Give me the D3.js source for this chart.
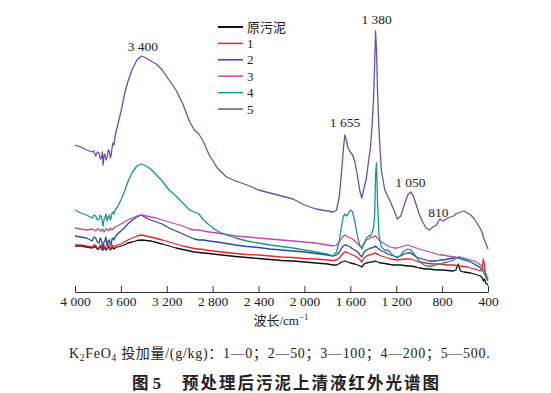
<!DOCTYPE html>
<html>
<head>
<meta charset="utf-8">
<script src="https://cdn.jsdelivr.net/npm/d3@7"></script>
<style>
body { margin: 0; background: #fff; }
text { font-family: "Liberation Serif", "Noto Sans CJK SC", serif; fill: #222; }
</style>
</head>
<body>
<div id="chart"></div>
<script>

var svgWidth = 551;
var svgHeight = 393;

// wavenumber grid (cm-1), shared by all spectra
var wavenumbers = [4000, 3950, 3900,
    3850, 3835, 3820, 3805, 3790, 3780, 3770, 3762, 3755, 3748, 3740,
    3730, 3720, 3710, 3700, 3692, 3685, 3677, 3670, 3660, 3650,
    3630, 3600, 3570, 3540, 3500, 3460,
    3420, 3380, 3340, 3290, 3240, 3180, 3120, 3060, 3000, 2960,
    2920, 2880, 2830, 2760, 2680, 2600, 2500, 2400, 2300, 2200,
    2100, 2000, 1900, 1800, 1750, 1720, 1695, 1675, 1660, 1648,
    1635, 1620, 1600, 1580, 1560, 1535, 1515, 1500, 1480, 1460,
    1440, 1425, 1410, 1398, 1388, 1380, 1372, 1362, 1350, 1330,
    1300, 1275, 1250, 1220, 1190, 1160, 1130, 1100, 1075, 1050,
    1025, 1000, 970, 940, 910, 880, 850, 820, 790, 750,
    700, 680, 660, 640, 610, 580, 550, 520, 490, 465,
    450, 440, 430, 420, 410, 400];

var seriesNames = ["原污泥", "1", "2", "3", "4", "5"];

var rawSludge = [0.46, 0.46, 0.45,
    0.44, 0.45, 0.45, 0.43, 0.43, 0.45, 0.44, 0.42, 0.42, 0.44, 0.44,
    0.42, 0.43, 0.45, 0.44, 0.42, 0.43, 0.45, 0.44, 0.43, 0.44,
    0.45, 0.46, 0.47, 0.49, 0.50, 0.515,
    0.52, 0.515, 0.51, 0.495, 0.48, 0.46, 0.44, 0.425, 0.41, 0.40,
    0.395, 0.39, 0.385, 0.375, 0.365, 0.355, 0.345, 0.335, 0.325, 0.315,
    0.31, 0.30, 0.29, 0.28, 0.27, 0.27, 0.285, 0.30, 0.305, 0.31,
    0.305, 0.30, 0.29, 0.285, 0.28, 0.27, 0.26, 0.25, 0.28, 0.29,
    0.295, 0.30, 0.30, 0.305, 0.305, 0.31, 0.305, 0.30, 0.295, 0.29,
    0.285, 0.28, 0.275, 0.27, 0.27, 0.27, 0.265, 0.26, 0.26, 0.255,
    0.25, 0.24, 0.235, 0.23, 0.23, 0.225, 0.22, 0.22, 0.22, 0.215,
    0.21, 0.22, 0.28, 0.21, 0.20, 0.195, 0.19, 0.18, 0.17, 0.16,
    0.14, 0.11, 0.13, 0.09, 0.08, 0.07];

var dose0 = [0.47, 0.47, 0.46,
    0.45, 0.47, 0.47, 0.44, 0.44, 0.47, 0.46, 0.43, 0.43, 0.46, 0.46,
    0.43, 0.44, 0.47, 0.46, 0.43, 0.44, 0.47, 0.46, 0.45, 0.46,
    0.47, 0.48, 0.50, 0.52, 0.54, 0.56,
    0.57, 0.56, 0.55, 0.535, 0.52, 0.50, 0.48, 0.46, 0.445, 0.435,
    0.43, 0.425, 0.415, 0.405, 0.395, 0.385, 0.375, 0.37, 0.36, 0.35,
    0.345, 0.335, 0.33, 0.32, 0.315, 0.32, 0.34, 0.37, 0.39, 0.40,
    0.40, 0.39, 0.38, 0.37, 0.36, 0.34, 0.32, 0.30, 0.34, 0.36,
    0.37, 0.37, 0.38, 0.38, 0.39, 0.39, 0.38, 0.38, 0.37, 0.36,
    0.35, 0.34, 0.33, 0.325, 0.32, 0.325, 0.33, 0.33, 0.33, 0.32,
    0.31, 0.30, 0.295, 0.29, 0.285, 0.28, 0.28, 0.28, 0.275, 0.27,
    0.27, 0.265, 0.26, 0.26, 0.255, 0.25, 0.24, 0.23, 0.22, 0.21,
    0.24, 0.33, 0.26, 0.16, 0.13, 0.11];

var dose50 = [0.56, 0.55, 0.54,
    0.51, 0.55, 0.54, 0.50, 0.49, 0.54, 0.52, 0.47, 0.43, 0.50, 0.51,
    0.55, 0.46, 0.51, 0.52, 0.47, 0.48, 0.53, 0.54, 0.52, 0.55,
    0.58, 0.61, 0.64, 0.68, 0.72, 0.75,
    0.77, 0.74, 0.72, 0.70, 0.68, 0.64, 0.61, 0.58, 0.55, 0.53,
    0.52, 0.52, 0.51, 0.50, 0.485, 0.47, 0.455, 0.445, 0.43, 0.42,
    0.41, 0.40, 0.385, 0.37, 0.36, 0.37, 0.40, 0.44, 0.46, 0.47,
    0.47, 0.46, 0.45, 0.43, 0.42, 0.40, 0.37, 0.35, 0.40, 0.42,
    0.43, 0.44, 0.44, 0.45, 0.45, 0.46, 0.45, 0.44, 0.43, 0.41,
    0.40, 0.38, 0.37, 0.36, 0.35, 0.36, 0.38, 0.39, 0.39, 0.37,
    0.35, 0.34, 0.33, 0.32, 0.31, 0.31, 0.31, 0.32, 0.32, 0.33,
    0.34, 0.34, 0.34, 0.33, 0.32, 0.31, 0.30, 0.28, 0.26, 0.24,
    0.22, 0.20, 0.18, 0.16, 0.14, 0.12];

var dose100 = [0.64, 0.63, 0.62,
    0.63, 0.62, 0.61, 0.63, 0.63, 0.61, 0.61, 0.63, 0.62, 0.60, 0.61,
    0.63, 0.63, 0.61, 0.62, 0.64, 0.63, 0.62, 0.63, 0.64, 0.65,
    0.66, 0.68, 0.70, 0.72, 0.74, 0.76,
    0.77, 0.76, 0.75, 0.74, 0.72, 0.70, 0.68, 0.66, 0.63, 0.62,
    0.62, 0.61, 0.60, 0.59, 0.575, 0.56, 0.55, 0.54, 0.53, 0.52,
    0.51, 0.50, 0.49, 0.47, 0.46, 0.47, 0.50, 0.54, 0.56, 0.57,
    0.56, 0.55, 0.54, 0.53, 0.51, 0.48, 0.46, 0.45, 0.49, 0.52,
    0.53, 0.54, 0.55, 0.55, 0.56, 0.56, 0.55, 0.54, 0.52, 0.50,
    0.48, 0.46, 0.45, 0.44, 0.44, 0.45, 0.46, 0.47, 0.46, 0.45,
    0.44, 0.43, 0.42, 0.41, 0.40, 0.39, 0.38, 0.37, 0.37, 0.36,
    0.35, 0.35, 0.34, 0.34, 0.34, 0.33, 0.32, 0.31, 0.29, 0.27,
    0.25, 0.23, 0.21, 0.19, 0.16, 0.14];

var dose200 = [0.82, 0.79, 0.77,
    0.74, 0.77, 0.76, 0.72, 0.73, 0.77, 0.75, 0.70, 0.66, 0.72, 0.74,
    0.78, 0.71, 0.75, 0.77, 0.72, 0.74, 0.79, 0.80, 0.78, 0.82,
    0.85, 0.92, 1.00, 1.10, 1.20, 1.26,
    1.28, 1.26, 1.23, 1.17, 1.11, 1.02, 0.96, 0.89, 0.82, 0.80,
    0.78, 0.72, 0.67, 0.61, 0.57, 0.54, 0.51, 0.49, 0.47, 0.455,
    0.44, 0.42, 0.40, 0.38, 0.36, 0.40, 0.52, 0.67, 0.76, 0.78,
    0.76, 0.78, 0.82, 0.80, 0.70, 0.54, 0.46, 0.43, 0.48, 0.54,
    0.56, 0.56, 0.60, 0.64, 0.77, 1.17, 1.29, 0.87, 0.57, 0.45,
    0.42, 0.42, 0.39, 0.36, 0.34, 0.37, 0.41, 0.43, 0.42, 0.39,
    0.35, 0.31, 0.28, 0.26, 0.26, 0.26, 0.27, 0.28, 0.29, 0.30,
    0.32, 0.34, 0.35, 0.35, 0.33, 0.32, 0.30, 0.28, 0.26, 0.24,
    0.22, 0.20, 0.18, 0.16, 0.14, 0.12];

var dose500 = [1.47, 1.45, 1.42,
    1.40, 1.41, 1.36, 1.40, 1.39, 1.33, 1.34, 1.40, 1.27, 1.36, 1.38,
    1.32, 1.35, 1.42, 1.41, 1.34, 1.37, 1.44, 1.49, 1.47, 1.56,
    1.66, 1.80, 1.97, 2.10, 2.23, 2.32,
    2.36, 2.34, 2.31, 2.28, 2.22, 2.12, 2.02, 1.88, 1.70, 1.62,
    1.58, 1.50, 1.37, 1.24, 1.15, 1.11, 1.07, 1.02, 0.99, 0.96,
    0.93, 0.87, 0.83, 0.81, 0.80, 0.82, 0.96, 1.22, 1.44, 1.57,
    1.52, 1.44, 1.40, 1.37, 1.30, 1.14, 1.00, 0.94, 1.04, 1.14,
    1.32, 1.44, 1.67, 1.92, 2.27, 2.61, 2.42, 1.97, 1.62, 1.22,
    1.02, 0.96, 0.90, 0.82, 0.73, 0.76, 0.87, 0.97, 1.00, 0.96,
    0.87, 0.78, 0.70, 0.64, 0.62, 0.65, 0.67, 0.73, 0.71, 0.74,
    0.76, 0.78, 0.79, 0.80, 0.81, 0.79, 0.77, 0.73, 0.68, 0.63,
    0.59, 0.55, 0.52, 0.49, 0.46, 0.43];

var tickValues = [4000, 3600, 3200, 2800, 2400, 2000, 1600, 1200, 800, 400];
var tickLabels = ["4 000", "3 600", "3 200", "2 800", "2 400", "2 000", "1 600", "1 200", "800", "400"];

var peakWavenumbers = [3400, 1655, 1380, 1050, 810];
var peakLabels = ["3 400", "1 655", "1 380", "1 050", "810"];

var colors = ["#111111", "#e5262b", "#2e46a6", "#c249a8", "#17988c", "#6a52a6"];

var allSeries = [rawSludge, dose0, dose50, dose100, dose200, dose500];

var svg = d3.select("#chart")
    .append("svg")
    .attr("width", svgWidth)
    .attr("height", svgHeight);

var chartGroup = svg.append("g");

var xScale = d3.scaleLinear()
    .domain([4000, 400])
    .range([75, 488]);

var yScale = d3.scaleLinear()
    .domain([0, 2.7])
    .range([292, 22]);

// x axis, ticks pointing up
var xAxis = d3.axisBottom(xScale)
    .tickValues(tickValues)
    .tickFormat((d, i) => tickLabels[i])
    .tickSizeInner(-6)
    .tickSizeOuter(0)
    .tickPadding(4);

var axisG = chartGroup.append("g")
    .attr("transform", "translate(0, 292)")
    .call(xAxis);

axisG.select(".domain").attr("stroke", "#333").attr("stroke-width", 1);
axisG.selectAll(".tick line").attr("stroke", "#333");
axisG.selectAll(".tick text")
    .attr("font-family", "Liberation Serif")
    .attr("font-size", 13.5)
    .attr("fill", "#222");

// spectra
var line = d3.line()
    .x((d, i) => xScale(wavenumbers[i]))
    .y(d => yScale(d));

allSeries.forEach((s, k) => {
    chartGroup.append("path")
        .datum(s)
        .attr("d", line)
        .attr("fill", "none")
        .attr("stroke", colors[k])
        .attr("stroke-width", 1.3)
        .attr("stroke-linejoin", "round");
});

// peak labels
var labelPlace = [[-1, 51], [1, 126.5], [1, 23.5], [-3, 186.5], [-2.5, 216.5]];
chartGroup.selectAll(".peak")
    .data(peakLabels)
    .enter()
    .append("text")
    .attr("class", "peak")
    .attr("x", (d, i) => xScale(peakWavenumbers[i]) + labelPlace[i][0])
    .attr("y", (d, i) => labelPlace[i][1])
    .attr("text-anchor", "middle")
    .attr("font-size", 13.5)
    .text(d => d);

// legend
var legend = chartGroup.selectAll(".legend")
    .data(seriesNames)
    .enter()
    .append("g")
    .attr("transform", (d, i) => `translate(218, ${27 + i * 16.4})`);

legend.append("line")
    .attr("x1", 0)
    .attr("x2", 25)
    .attr("stroke", (d, i) => colors[i])
    .attr("stroke-width", (d, i) => i == 0 ? 2 : 1.5);

legend.append("text")
    .attr("x", 29)
    .attr("y", 4.5)
    .attr("font-size", 13)
    .text(d => d);

// axis title
var axisTitle = chartGroup.append("text")
    .attr("x", 281)
    .attr("y", 325)
    .attr("text-anchor", "middle")
    .attr("font-size", 13);
axisTitle.append("tspan").text("波长/cm");
axisTitle.append("tspan").attr("dy", -5).attr("font-size", 9).text("−1");

// caption
var caption = svg.append("text")
    .attr("x", 69)
    .attr("y", 358)
    .attr("font-size", 14)
    .attr("letter-spacing", 0.7);
caption.append("tspan").text("K");
caption.append("tspan").attr("dy", 3).attr("font-size", 9.5).text("2");
caption.append("tspan").attr("dy", -3).text("FeO");
caption.append("tspan").attr("dy", 3).attr("font-size", 9.5).text("4");
caption.append("tspan").attr("dy", -3).text(" 投加量/(g/kg)：1—0；2—50；3—100；4—200；5—500.");

// figure title
svg.append("text")
    .attr("x", 132)
    .attr("y", 389)
    .attr("font-family", "Noto Sans CJK SC")
    .attr("font-weight", "bold")
    .attr("font-size", 16.5)
    .attr("fill", "#111")
    .text("图 5");

svg.append("text")
    .attr("x", 182)
    .attr("y", 389)
    .attr("font-family", "Noto Sans CJK SC")
    .attr("font-weight", "bold")
    .attr("font-size", 16.5)
    .attr("fill", "#111")
    .style("letter-spacing", "2px")
    .text("预处理后污泥上清液红外光谱图");

</script>
</body>
</html>
